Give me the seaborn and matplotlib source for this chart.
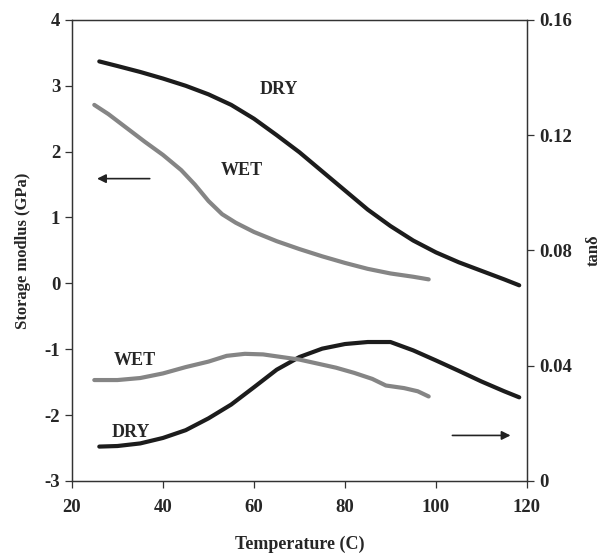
import pandas as pd
import matplotlib.pyplot as plt
import seaborn as sns

# storage modulus (GPa), left axis
dry_mod_t = [26.0, 30, 35, 40, 45, 50, 55, 60, 65, 70, 75, 80, 85, 90, 95, 100, 105, 110, 115, 118.3]
dry_mod = [3.37, 3.30, 3.21, 3.11, 3.00, 2.87, 2.71, 2.50, 2.25, 1.99, 1.70, 1.41, 1.12,
           0.87, 0.65, 0.47, 0.32, 0.19, 0.06, -0.03]
wet_mod_t = [24.9, 28, 32, 36, 40, 44, 47, 50, 53, 56, 60, 65, 70, 75, 80, 85, 90, 95, 98.4]
wet_mod = [2.71, 2.57, 2.36, 2.15, 1.95, 1.72, 1.50, 1.25, 1.05, 0.92, 0.78, 0.64, 0.52,
           0.41, 0.31, 0.22, 0.15, 0.10, 0.06]

# tan delta, right axis
wet_tan_t = [24.9, 30, 35, 40, 45, 50, 54, 58, 62, 66, 70, 74, 78, 82, 86, 89, 93, 96, 98.4]
wet_tan = [0.0350, 0.0350, 0.0357, 0.0373, 0.0395, 0.0414, 0.0434, 0.0441, 0.0439, 0.0430,
           0.0421, 0.0407, 0.0393, 0.0375, 0.0354, 0.0331, 0.0322, 0.0311, 0.0293]
dry_tan_t = [26.0, 30, 35, 40, 45, 50, 55, 60, 65, 70, 75, 80, 85, 90, 95, 100, 105, 110, 115, 118.3]
dry_tan = [0.0119, 0.0121, 0.0130, 0.0149, 0.0176, 0.0217, 0.0265, 0.0325, 0.0386, 0.0430,
           0.0459, 0.0475, 0.0482, 0.0482, 0.0453, 0.0418, 0.0382, 0.0345, 0.0311, 0.0290]

sns.set_style("white")
plt.rcParams['font.family'] = ['Liberation Serif', 'DejaVu Serif']
plt.rcParams['font.weight'] = 'bold'
plt.rcParams['axes.unicode_minus'] = False

DRY_C = '#1c1c1c'
WET_C = '#858585'

fig, ax = plt.subplots(figsize=(6.05, 5.54), dpi=100)
fig.subplots_adjust(left=0.119, right=0.871, top=0.964, bottom=0.132)
ax2 = ax.twinx()

sns.lineplot(x=dry_mod_t, y=dry_mod, ax=ax, color=DRY_C, linewidth=3)
sns.lineplot(x=wet_mod_t, y=wet_mod, ax=ax, color=WET_C, linewidth=3)
sns.lineplot(x=dry_tan_t, y=dry_tan, ax=ax2, color=DRY_C, linewidth=3)
sns.lineplot(x=wet_tan_t, y=wet_tan, ax=ax2, color=WET_C, linewidth=3)

ax.set_xlim(20, 120)
ax.set_ylim(-3, 4)
ax2.set_ylim(0, 0.16)
ax.set_xticks([20, 40, 60, 80, 100, 120])
ax.set_yticks(range(-3, 5))
ax2.set_yticks([0, 0.04, 0.08, 0.12, 0.16])
ax2.set_yticklabels(['0', '0.04', '0.08', '0.12', '0.16'])

for a in (ax, ax2):
    for s in a.spines.values():
        s.set_color('#333333')
        s.set_linewidth(0.9)
    a.tick_params(labelsize=13.5, length=5, width=0.9, color='#333333')
ax.tick_params(axis='both', left=True, bottom=True)
ax.tick_params(axis='x', pad=8)
ax2.tick_params(axis='y', right=True)

ax.set_xlabel('Temperature (C)', fontsize=13, fontweight='bold', labelpad=14)
ax.set_ylabel('Storage modlus (GPa)', fontsize=12, fontweight='bold', labelpad=10)
ax2.set_ylabel('tan\u03b4', fontsize=12, fontweight='bold', rotation=90, labelpad=10)

ax.text(65.4, 2.94, 'DRY', fontsize=13, fontweight='bold', ha='center', va='center')
ax.text(57.4, 1.71, 'WET', fontsize=13, fontweight='bold', ha='center', va='center')
ax.text(33.8, -1.17, 'WET', fontsize=13, fontweight='bold', ha='center', va='center')
ax.text(33.0, -2.27, 'DRY', fontsize=13, fontweight='bold', ha='center', va='center')

ax.annotate('', xy=(24.9, 1.59), xytext=(37.7, 1.59),
            arrowprops=dict(arrowstyle='-|>', color='#222222', lw=1.2, mutation_scale=13))
ax.annotate('', xy=(117.0, -2.31), xytext=(103.0, -2.31),
            arrowprops=dict(arrowstyle='-|>', color='#222222', lw=1.2, mutation_scale=13))

plt.savefig('out.png', dpi=100)
plt.close()
